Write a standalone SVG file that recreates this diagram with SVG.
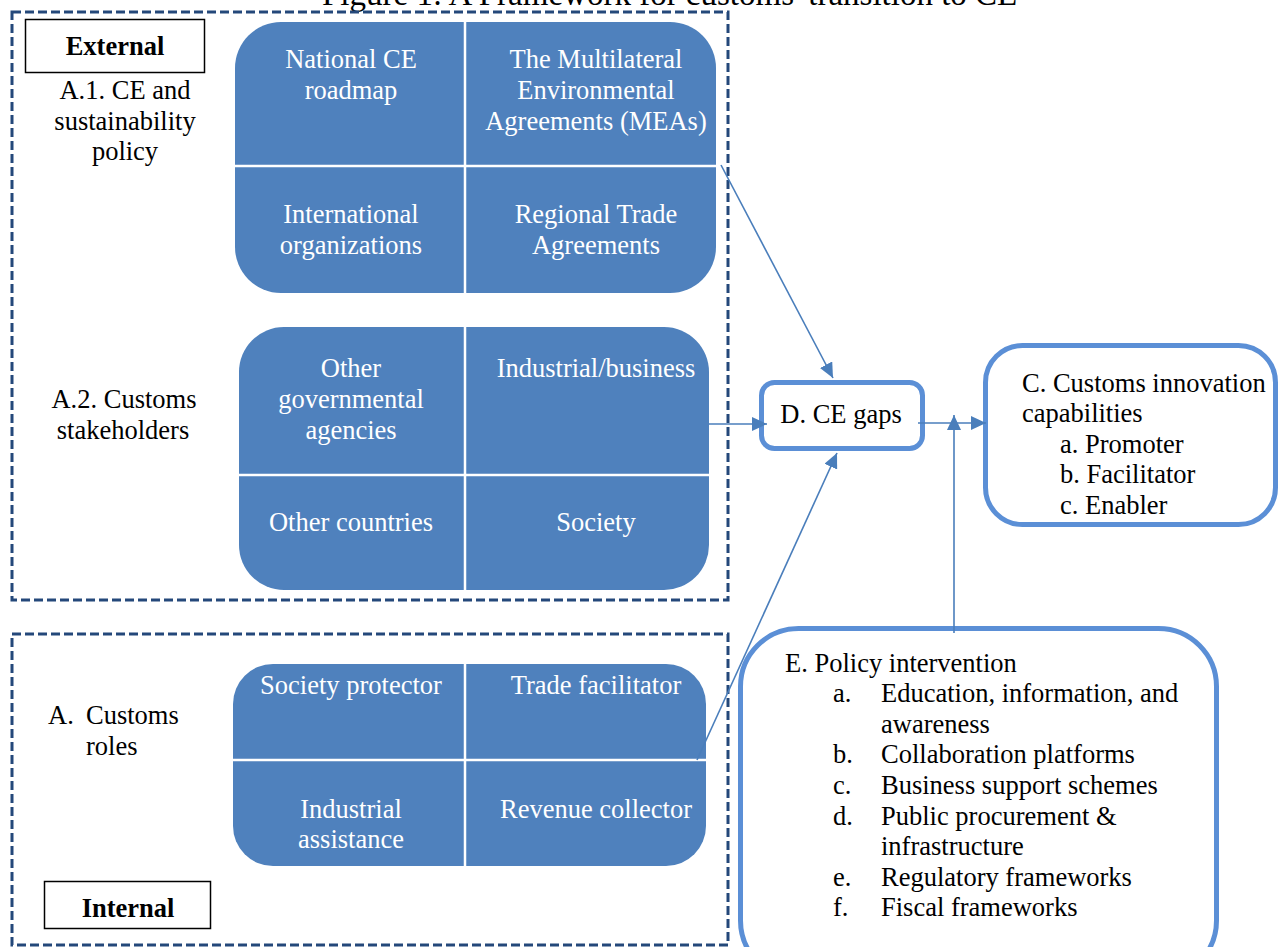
<svg xmlns="http://www.w3.org/2000/svg" width="1282" height="947" viewBox="0 0 1282 947">
<defs>
<style>
.t{font-family:"Liberation Serif","Times New Roman",serif;font-size:26.5px;fill:#000}
.w{font-family:"Liberation Serif","Times New Roman",serif;font-size:26.5px;fill:#fff;text-anchor:middle}
.b{font-family:"Liberation Serif","Times New Roman",serif;font-size:26.5px;font-weight:bold;fill:#000;text-anchor:middle}
.c{text-anchor:middle}
.dash{fill:none;stroke:#24487A;stroke-width:3;stroke-dasharray:9,4}
.quad{fill:#4F81BD}
.div{stroke:#fff;stroke-width:2.5;fill:none}
.nb{fill:#fff;stroke:#5B8FD6;stroke-width:5}
.lbl{fill:#fff;stroke:#000;stroke-width:1.5}
.ar{fill:none;stroke:#4A7EBB;stroke-width:1.6}
</style>
<marker id="ah" markerWidth="16" markerHeight="14" refX="15" refY="7" orient="auto" markerUnits="userSpaceOnUse">
<path d="M0,0 L15,7 L0,14 Z" fill="#4A7EBB"/>
</marker>
</defs>
<rect width="1282" height="947" fill="#fff"/>

<g id="title">
<text class="t" x="322" y="5" style="font-size:33px">Figure 1: A Framework for customs' transition to CE</text>
</g>

<g id="external">
<rect class="dash" x="12" y="12" width="716" height="588"/>
<rect class="lbl" x="25.5" y="19.5" width="179" height="53"/>
<text class="b" x="115" y="55">External</text>
</g>

<g id="internal">
<rect class="dash" x="12" y="634" width="716" height="311"/>
<rect class="lbl" x="44.5" y="881.5" width="166" height="47"/>
<text class="b" x="128" y="917">Internal</text>
</g>

<g id="a1-label">
<text class="t c" x="125" y="99">A.1. CE and</text>
<text class="t c" x="125" y="130">sustainability</text>
<text class="t c" x="125" y="160">policy</text>
</g>

<g id="a2-label">
<text class="t c" x="124" y="407.5">A.2. Customs</text>
<text class="t c" x="123" y="438.5">stakeholders</text>
</g>

<g id="a-label">
<text class="t" x="48" y="723.5">A.</text>
<text class="t" x="86" y="723.5">Customs</text>
<text class="t" x="86" y="754.5">roles</text>
</g>

<g id="a1-group">
<rect class="quad" x="235" y="22" width="481" height="271" rx="46" ry="46"/>
<line class="div" x1="465" y1="22" x2="465" y2="293"/>
<line class="div" x1="235" y1="166" x2="716" y2="166"/>
<text class="w" x="351" y="68">National CE</text>
<text class="w" x="351" y="99">roadmap</text>
<text class="w" x="596" y="68">The Multilateral</text>
<text class="w" x="596" y="99">Environmental</text>
<text class="w" x="596" y="130">Agreements (MEAs)</text>
<text class="w" x="351" y="223">International</text>
<text class="w" x="351" y="254">organizations</text>
<text class="w" x="596" y="223">Regional Trade</text>
<text class="w" x="596" y="254">Agreements</text>
</g>

<g id="a2-group">
<rect class="quad" x="239" y="327" width="470" height="263" rx="45" ry="45"/>
<line class="div" x1="465" y1="327" x2="465" y2="590"/>
<line class="div" x1="239" y1="475" x2="709" y2="475"/>
<text class="w" x="351" y="376.5">Other</text>
<text class="w" x="351" y="407.5">governmental</text>
<text class="w" x="351" y="438.5">agencies</text>
<text class="w" x="596" y="376.5">Industrial/business</text>
<text class="w" x="351" y="530.5">Other countries</text>
<text class="w" x="596" y="530.5">Society</text>
</g>

<g id="a-group">
<rect class="quad" x="233" y="664" width="473" height="202" rx="40" ry="40"/>
<line class="div" x1="465" y1="664" x2="465" y2="866"/>
<line class="div" x1="233" y1="760" x2="706" y2="760"/>
<text class="w" x="351" y="693.5">Society protector</text>
<text class="w" x="596" y="693.5">Trade facilitator</text>
<text class="w" x="351" y="817.5">Industrial</text>
<text class="w" x="351" y="847.5">assistance</text>
<text class="w" x="596" y="817.5">Revenue collector</text>
</g>

<g id="d-gaps">
<rect class="nb" x="761.5" y="382.5" width="161" height="66" rx="13" ry="13"/>
<text class="t c" x="841" y="423">D. CE gaps</text>
</g>

<g id="c-capabilities">
<rect class="nb" x="985.5" y="345.5" width="290" height="179" rx="37" ry="37"/>
<text class="t" x="1022" y="391.5">C. Customs innovation</text>
<text class="t" x="1022" y="422">capabilities</text>
<text class="t" x="1060" y="452.5">a. Promoter</text>
<text class="t" x="1060" y="483">b. Facilitator</text>
<text class="t" x="1060" y="513.5">c. Enabler</text>
</g>

<g id="e-policy">
<rect class="nb" x="740.5" y="628.5" width="476" height="350" rx="58" ry="58"/>
<text class="t" x="785" y="671.5">E. Policy intervention</text>
<text class="t" x="833" y="702">a.</text>
<text class="t" x="881" y="702">Education, information, and</text>
<text class="t" x="881" y="732.6">awareness</text>
<text class="t" x="833" y="763.3">b.</text>
<text class="t" x="881" y="763.3">Collaboration platforms</text>
<text class="t" x="833" y="793.9">c.</text>
<text class="t" x="881" y="793.9">Business support schemes</text>
<text class="t" x="833" y="824.5">d.</text>
<text class="t" x="881" y="824.5">Public procurement &amp;</text>
<text class="t" x="881" y="855.1">infrastructure</text>
<text class="t" x="833" y="885.7">e.</text>
<text class="t" x="881" y="885.7">Regulatory frameworks</text>
<text class="t" x="833" y="916.3">f.</text>
<text class="t" x="881" y="916.3">Fiscal frameworks</text>
</g>

<g id="connectors">
<line class="ar" x1="721" y1="165" x2="833" y2="378" marker-end="url(#ah)"/>
<line class="ar" x1="709" y1="424" x2="767" y2="424" marker-end="url(#ah)"/>
<line class="ar" x1="697" y1="760" x2="837" y2="453" marker-end="url(#ah)"/>
<line class="ar" x1="918" y1="423" x2="986" y2="423" marker-end="url(#ah)"/>
<line class="ar" x1="954" y1="633" x2="954" y2="415" marker-end="url(#ah)"/>
</g>
</svg>
